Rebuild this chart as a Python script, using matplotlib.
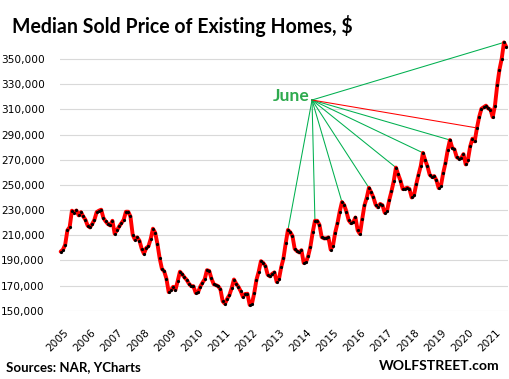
import matplotlib
matplotlib.use("Agg")
import matplotlib.pyplot as plt
import matplotlib.transforms as mtransforms
import numpy as np

# ---- data (median sold price, $ thousands, monthly Jan 2005 - Jul 2021) ----
p2005 = [197.0, 198.5, 202.5, 214.0, 216.5, 229.5, 228.0, 229.7, 225.8, 228.4, 225.0, 222.3]
p2006 = [217.6, 216.2, 218.9, 222.3, 228.4, 229.5, 230.3, 223.7, 221.0, 218.9, 217.8, 221.5]
p2007 = [211.2, 213.9, 217.0, 219.7, 222.3, 228.7, 228.7, 225.0, 210.4, 206.5, 208.3, 205.7]
p2008 = [199.3, 195.3, 199.8, 201.2, 207.0, 215.2, 212.0, 203.1, 191.6, 183.3, 181.3, 175.4]
p2009 = [164.8, 166.5, 169.0, 166.5, 173.5, 181.0, 179.0, 176.5, 174.5, 171.5, 169.5, 169.5]
p2010 = [164.2, 164.5, 169.0, 172.2, 175.0, 182.2, 181.7, 175.6, 171.1, 170.3, 169.5, 166.9]
p2011 = [157.5, 155.5, 159.5, 162.5, 168.0, 174.8, 171.5, 169.0, 165.5, 161.0, 163.3, 163.5]
p2012 = [154.6, 155.5, 163.8, 174.5, 181.0, 189.4, 188.0, 185.5, 178.6, 177.3, 179.3, 180.5]
p2013 = [172.9, 175.0, 184.5, 191.5, 203.5, 214.2, 212.5, 209.5, 199.2, 197.4, 196.3, 198.1]
p2014 = [188.0, 188.5, 193.5, 201.0, 212.3, 221.5, 221.5, 218.3, 208.5, 207.5, 207.5, 208.3]
p2015 = [198.5, 201.5, 212.1, 219.4, 228.7, 236.4, 234.0, 228.7, 221.9, 219.6, 220.3, 224.1]
p2016 = [213.8, 211.0, 222.7, 233.7, 239.7, 247.7, 244.1, 240.0, 234.2, 232.2, 234.9, 233.9]
p2017 = [227.9, 229.0, 237.8, 244.8, 252.8, 263.8, 258.3, 253.5, 246.8, 247.0, 247.8, 246.8]
p2018 = [240.0, 241.7, 250.4, 257.9, 264.8, 275.5, 269.6, 264.8, 258.1, 256.4, 257.0, 253.6]
p2019 = [247.5, 249.4, 259.4, 267.3, 277.7, 285.7, 279.6, 278.2, 272.1, 270.9, 271.3, 274.5]
p2020 = [266.3, 270.1, 280.7, 286.8, 284.6, 295.3, 304.1, 310.6, 311.8, 313.0, 310.8, 309.8]
p2021 = [303.9, 313.0, 329.1, 341.6, 350.3, 363.3, 359.9]

prices = np.array(p2005 + p2006 + p2007 + p2008 + p2009 + p2010 + p2011 + p2012 +
                  p2013 + p2014 + p2015 + p2016 + p2017 + p2018 + p2019 + p2020 + p2021) * 1000

years = list(range(2005, 2022))
year_labels = [str(y) for y in years]
ytick_values = list(range(150000, 350001, 20000))
june_years = [2013, 2014, 2015, 2016, 2017, 2018, 2019, 2020, 2021]
june_colors = ["#00b050"] * 7 + ["#ff0000", "#00b050"]

months = np.arange(len(prices))

W, H = 510, 379
fig = plt.figure(figsize=(W / 100, H / 100), dpi=100)
ax = fig.add_axes([60 / W, 1 - 39 / H - (310.7 - 39) / H, (508 - 60) / W, (310.7 - 39) / H])

ax.set_xlim(-0.3, 198.8)
ax.set_ylim(150000, 366000)

for v in ytick_values:
    ax.axhline(v, color="#d9d9d9", lw=0.8, zorder=0)

ax.plot(months, prices, color="#ff0000", lw=2.8, zorder=3, solid_capstyle="round",
        solid_joinstyle="round", clip_on=False)
ax.plot(months, prices, ls="none", marker="o", ms=2.3, color="black", mew=0, zorder=4, clip_on=False)

# June annotation
origin_x, origin_y = 111.7, 317500
for y, c in zip(june_years, june_colors):
    idx = (y - 2005) * 12 + 5
    ax.plot([origin_x, idx], [origin_y, prices[idx]], color=c, lw=0.75, zorder=2, clip_on=False)
june_txt = ax.text(110.4, 320700, "June", color="#2eaa4e", fontsize=10.5, fontweight="bold",
                   family="Lato", ha="right", va="center")

for s in ax.spines.values():
    s.set_visible(False)
ax.set_yticks(ytick_values)
ax.set_yticklabels([f"{v:,}" for v in ytick_values], fontsize=7.6, family="DejaVu Sans")
ax.tick_params(axis="y", length=0, pad=11)

xt = [(y - 2005) * 12 for y in years]
ax.set_xticks(xt)
ax.set_xticklabels(year_labels, rotation=45, ha="right", rotation_mode="anchor",
                   fontsize=7.6, family="DejaVu Sans")
ax.tick_params(axis="x", length=0, pad=12)
offset = mtransforms.ScaledTranslation(3 / 100, 0, fig.dpi_scale_trans)
for lab in ax.get_xticklabels():
    lab.set_transform(lab.get_transform() + offset)

title = fig.text(12 / W, 1 - 26 / H, "Median Sold Price of Existing Homes, $", fontsize=14,
                 fontweight="bold", family="Lato", ha="left", va="center")
src = fig.text(6 / W, 1 - 367 / H, "Sources: NAR, YCharts", fontsize=9.5, fontweight="bold",
               family="Lato", ha="left", va="center")
wolf = fig.text(500 / W, 1 - 366.5 / H, "WOLFSTREET.com", fontsize=9.5, fontweight="bold",
                family="Lato", ha="right", va="center")

# fit text widths to the reference
fig.canvas.draw()
r = fig.canvas.get_renderer()
for t, target in [(title, 342), (src, 136), (wolf, 122), (june_txt, 37)]:
    w = t.get_window_extent(r).width
    t.set_fontsize(t.get_fontsize() * target / w)

fig.savefig("out.png", dpi=100)
